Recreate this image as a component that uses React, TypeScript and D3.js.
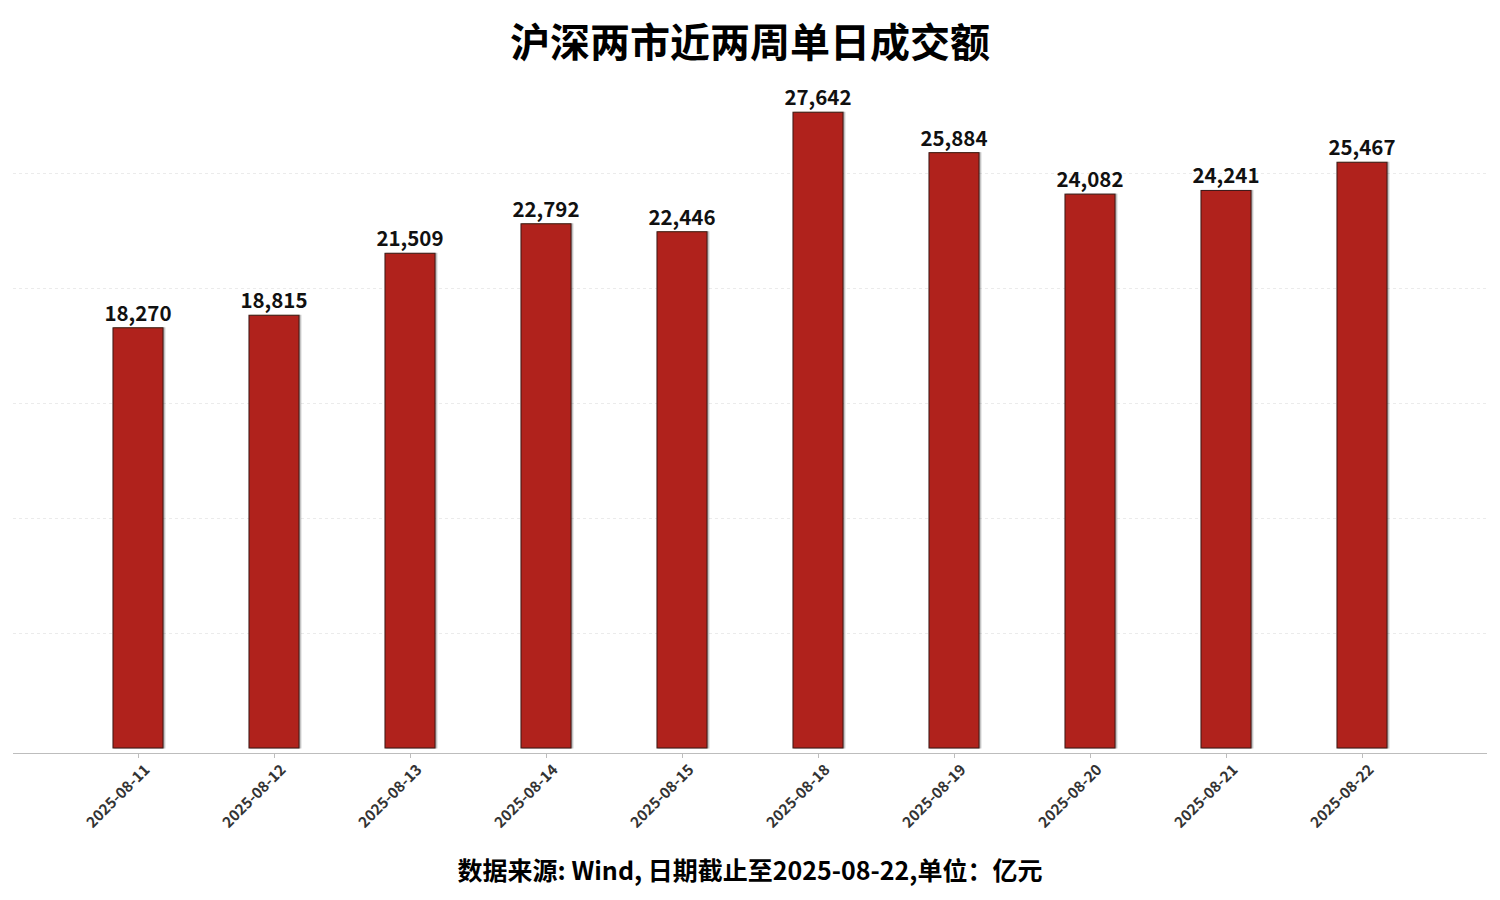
import React, { useEffect, useRef } from 'react';
import * as d3 from 'd3';

const dates: string[] = [
  '2025-08-11', '2025-08-12', '2025-08-13', '2025-08-14', '2025-08-15',
  '2025-08-18', '2025-08-19', '2025-08-20', '2025-08-21', '2025-08-22',
];
const turnover: number[] = [18270, 18815, 21509, 22792, 22446, 27642, 25884, 24082, 24241, 25467];
const gridValues: number[] = [5000, 10000, 15000, 20000, 25000];

const title = '沪深两市近两周单日成交额';
const footnote = '数据来源: Wind, 日期截止至2025-08-22,单位：亿元';

const FONT = '"Noto Sans CJK SC", "Noto Sans", sans-serif';

function App() {
  const ref = useRef<SVGSVGElement>(null);

  useEffect(() => {
    const svg = d3.select(ref.current);
    svg.selectAll('*').remove();

    const width = 1500;
    const height = 900;
    const axisLeft = 13;
    const axisRight = 1487;
    const axisY = 753;

    const x = d3.scaleBand<string>()
      .domain(dates)
      .range([70, 1430])
      .paddingInner(0.632)
      .paddingOuter(0.316);

    // zero sits a bit above the drawn axis line
    const y = d3.scaleLinear().domain([0, 30000]).range([748, 58]);

    svg.attr('width', width).attr('height', height);

    svg.append('rect').attr('width', width).attr('height', height).attr('fill', '#ffffff');

    // grid
    svg.append('g')
      .selectAll('line')
      .data(gridValues)
      .enter().append('line')
      .attr('x1', axisLeft)
      .attr('x2', axisRight)
      .attr('y1', d => Math.round(y(d)) + 0.5)
      .attr('y2', d => Math.round(y(d)) + 0.5)
      .attr('stroke', '#ebebeb')
      .attr('stroke-dasharray', '3,3')
      .attr('stroke-width', 1);

    // shadow
    const defs = svg.append('defs');
    const filter = defs.append('filter').attr('id', 'barShadow')
      .attr('x', '-20%').attr('y', '-5%').attr('width', '140%').attr('height', '110%');
    filter.append('feDropShadow')
      .attr('dx', 1.5).attr('dy', 0).attr('stdDeviation', 0.6)
      .attr('flood-color', '#000').attr('flood-opacity', 0.3);

    // bars
    svg.append('g')
      .selectAll('rect')
      .data(turnover)
      .enter().append('rect')
      .attr('x', (d, i) => (x(dates[i]) as number))
      .attr('y', d => y(d))
      .attr('width', x.bandwidth())
      .attr('height', d => y(0) - y(d))
      .attr('fill', '#b0241a')
      .attr('stroke', '#3b1a14')
      .attr('stroke-width', 1)
      .attr('filter', 'url(#barShadow)');

    // value labels
    svg.append('g')
      .selectAll('text')
      .data(turnover)
      .enter().append('text')
      .attr('x', (d, i) => (x(dates[i]) as number) + x.bandwidth() / 2)
      .attr('y', d => y(d) - 7)
      .attr('text-anchor', 'middle')
      .attr('font-family', FONT)
      .attr('font-weight', 700)
      .attr('font-size', 20.5)
      .attr('fill', '#111111')
      .text(d => d3.format(',')(d));

    // x axis
    const axis = svg.append('g').attr('transform', `translate(0,${axisY})`);
    axis.append('line')
      .attr('x1', axisLeft).attr('x2', axisRight)
      .attr('y1', 0.5).attr('y2', 0.5)
      .attr('stroke', '#bdbdbd').attr('stroke-width', 1);

    const ticks = axis.selectAll('g.tick')
      .data(dates)
      .enter().append('g')
      .attr('class', 'tick')
      .attr('transform', d => `translate(${Math.round((x(d) as number) + x.bandwidth() / 2)},0)`);

    ticks.append('line')
      .attr('x1', 0.5).attr('x2', 0.5)
      .attr('y1', 1).attr('y2', 5)
      .attr('stroke', '#bdbdbd');

    ticks.append('text')
      .attr('transform', 'translate(9,14) rotate(-45)')
      .attr('text-anchor', 'end')
      .attr('dy', '0.35em')
      .attr('font-family', FONT)
      .attr('font-weight', 600)
      .attr('font-size', 15)
      .attr('fill', '#333333')
      .text(d => d);

    // title
    svg.append('text')
      .attr('x', 750)
      .attr('y', 57)
      .attr('text-anchor', 'middle')
      .attr('font-family', FONT)
      .attr('font-weight', 700)
      .attr('font-size', 40)
      .attr('fill', '#000000')
      .text(title);

    // footnote
    svg.append('text')
      .attr('x', 750)
      .attr('y', 880)
      .attr('text-anchor', 'middle')
      .attr('font-family', FONT)
      .attr('font-weight', 700)
      .attr('font-size', 25)
      .attr('fill', '#000000')
      .text(footnote);
  }, []);

  return (
    <svg ref={ref} style={{ position: 'absolute', left: 0, top: 0, display: 'block' }}></svg>
  );
}

export default App;
